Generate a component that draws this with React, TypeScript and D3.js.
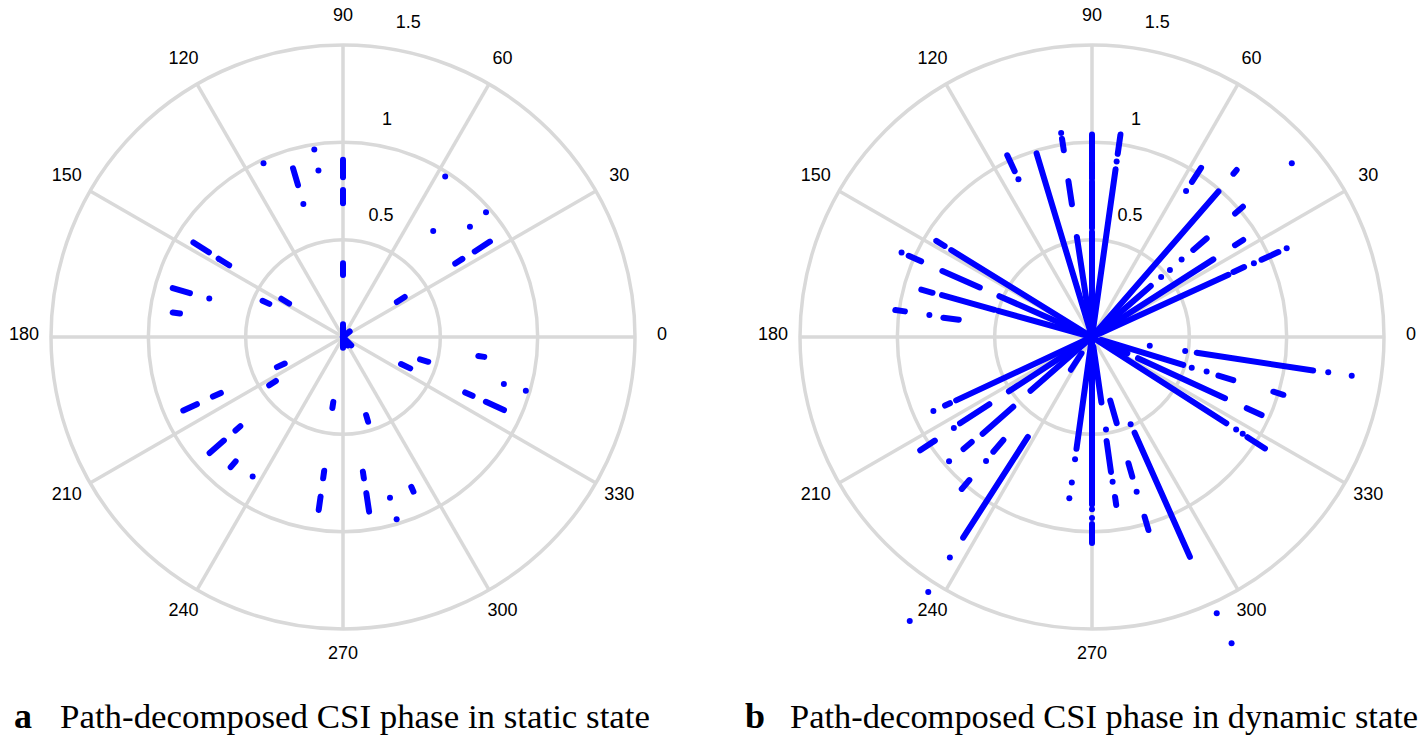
import React from 'react';
import * as d3 from 'd3';

// polar grid ticks
const angleTicks = [0, 30, 60, 90, 120, 150, 180, 210, 240, 270, 300, 330];
const radialTicks = [0.5, 1, 1.5];

// each mark: [angle in degrees, r start, r end] (r start == r end is a single dot)
const staticMarks: [number, number, number][] = [
  [90, 0, 0.065], [270, 0, 0.055], [315, 0, 0.06], [40, 0, 0.045], [300, 0, 0.05],
  [90, 0.82, 0.91], [90, 0.687, 0.755], [90, 0.318, 0.379],
  [98.7, 0.975, 0.975], [98.4, 0.864, 0.864],
  [106.5, 0.814, 0.904], [106.6, 0.713, 0.713], [114.6, 0.981, 0.981],
  [57.5, 0.977, 0.977], [41.1, 0.975, 0.975], [41.0, 0.864, 0.864], [49.6, 0.715, 0.715],
  [33.0, 0.807, 0.9], [33.2, 0.689, 0.733], [33.0, 0.33, 0.378],
  [147.7, 0.815, 0.909], [147.8, 0.691, 0.755], [155.8, 0.415, 0.453], [148.2, 0.326, 0.373],
  [164.0, 0.818, 0.91], [163.9, 0.715, 0.715], [171.8, 0.846, 0.884],
  [204.5, 0.329, 0.373], [213.2, 0.412, 0.453], [204.7, 0.826, 0.903], [204.6, 0.69, 0.735],
  [221.0, 0.811, 0.908], [221.0, 0.699, 0.732], [229.2, 0.844, 0.883], [237.1, 0.854, 0.854],
  [261.5, 0.337, 0.369], [286.5, 0.418, 0.454], [262.0, 0.694, 0.733], [262.0, 0.828, 0.897],
  [278.4, 0.699, 0.734], [278.5, 0.811, 0.907], [286.3, 0.86, 0.86], [294.5, 0.846, 0.873],
  [286.4, 0.976, 0.976],
  [335.0, 0.329, 0.381], [343.8, 0.412, 0.456], [352.0, 0.702, 0.733], [343.7, 0.861, 0.861],
  [343.6, 0.979, 0.979], [335.6, 0.689, 0.731], [335.6, 0.806, 0.908],
];

const dynamicMarks: [number, number, number][] = [
  // 90
  [90, 0, 0.54], [90, 0.56, 0.8], [90, 0.815, 0.9], [90, 0.91, 1.04],
  // 82
  [82, 0, 0.87], [82, 0.91, 0.91], [82, 0.95, 1.05],
  // 98.6
  [98.6, 0, 0.52], [98.6, 0.69, 0.81], [98.6, 0.97, 1.03], [98.6, 1.06, 1.06],
  // 106.8
  [106.8, 0, 0.985],
  // 115
  [115, 0.894, 0.894], [115, 0.94, 1.03],
  // 148
  [148.3, 0, 0.85], [148.3, 0.89, 0.94],
  // 156
  [156.2, 0, 0.52], [156.2, 0.63, 0.84], [156.1, 0.96, 1.03], [156.1, 1.07, 1.07],
  // 164
  [164.4, 0, 0.5], [164.4, 0.52, 0.8], [164.5, 0.85, 0.91],
  // 172
  [172.6, 0.69, 0.77], [172.3, 0.843, 0.843], [172.2, 0.97, 1.02],
  // 57
  [57.2, 0.892, 0.892], [57.2, 0.948, 1.034],
  // 49
  [49, 0, 0.99], [49.1, 1.11, 1.135],
  // 41
  [41, 0.05, 0.4], [40.9, 0.47, 0.47], [40.7, 0.528, 0.528], [40.9, 0.609, 0.609],
  [40.7, 0.686, 0.777], [40.8, 0.971, 1.024], [41, 1.36, 1.36],
  // 32.6
  [32.6, 0, 0.74], [32.7, 0.873, 0.923],
  // 24.5
  [24.5, 0, 0.77], [24.7, 0.8, 0.86], [24.5, 0.914, 0.914], [24.5, 0.957, 1.052], [24.5, 1.099, 1.099],
  // 205
  [205, 0, 0.77], [205, 0.805, 0.833], [205, 0.899, 0.899],
  // 213
  [213.2, 0, 0.51], [213.2, 0.63, 0.81], [213.4, 0.85, 0.85], [213.4, 0.967, 1.057],
  // 221
  [221.2, 0, 0.42], [221.5, 0.54, 0.75], [221.1, 0.82, 0.876], [221, 0.973, 0.973],
  // 229
  [229.3, 0.698, 0.777], [229.5, 0.838, 0.838], [229.4, 0.968, 1.028],
  // 237
  [237.2, 0.1, 0.2], [237.3, 0.61, 1.225], [237.2, 1.348, 1.348], [237.3, 1.557, 1.557], [237.3, 1.733, 1.733],
  // 262
  [262.1, 0, 0.58], [262.1, 0.634, 0.634], [262.1, 0.755, 0.755], [262, 0.837, 0.837],
  // 270
  [270, 0, 0.86], [270, 0.885, 0.885], [270, 0.93, 0.93], [270, 0.96, 1.058],
  // 278
  [278.2, 0.05, 0.34], [278.6, 0.48, 0.48], [278, 0.54, 0.7], [278.1, 0.751, 0.751], [278.2, 0.83, 0.872],
  // 286
  [286, 0.34, 0.46], [286.1, 0.675, 0.747], [286.1, 0.827, 0.827], [286.3, 0.962, 1.033],
  // 294
  [293.9, 0.49, 0.49], [294, 0.538, 1.236], [294.3, 1.557, 1.557], [294.5, 1.729, 1.729],
  // 327
  [327.3, 0, 0.82], [327.3, 0.88, 0.88], [327.3, 0.92, 0.92], [327.2, 0.95, 1.057],
  // 335
  [335.3, 0.05, 0.2], [335.3, 0.26, 0.752], [335.3, 0.875, 0.959],
  // 343
  [343, 0.05, 0.49], [342.9, 0.536, 0.536], [343.2, 0.615, 0.615], [343, 0.679, 0.759], [343.2, 0.973, 1.027],
  // 351.5
  [351.5, 0.3, 0.3], [351.5, 0.484, 0.484], [351.4, 0.544, 1.149], [351.5, 1.227, 1.227], [351.5, 1.349, 1.349],
];

const captionLetters = ['a', 'b'];
const captionTexts = [
  'Path-decomposed CSI phase in static state',
  'Path-decomposed CSI phase in dynamic state',
];

const W = 1424;
const H = 748;
const R = 292;
const GRID = '#d9d9d9';
const BLUE = '#0000ff';
const SANS = 'Liberation Sans, Arial, Helvetica, sans-serif';
const SERIF = 'Liberation Serif, Times New Roman, serif';

const rScale = d3.scaleLinear().domain([0, 1.5]).range([0, R]);
// d3 radial angle: radians clockwise from 12 o'clock
const aScale = d3.scaleLinear().domain([0, 360]).range([Math.PI / 2, Math.PI / 2 - 2 * Math.PI]);
const radial = d3.lineRadial<[number, number]>()
  .angle(d => aScale(d[0]))
  .radius(d => rScale(d[1]));

const polar = (deg: number, rpx: number): [number, number] => {
  const t = (deg * Math.PI) / 180;
  return [rpx * Math.cos(t), -rpx * Math.sin(t)];
};

const PolarPlot: React.FC<{ cx: number; cy: number; marks: [number, number, number][] }> = ({ cx, cy, marks }) => {
  return (
    <g transform={`translate(${cx},${cy})`}>
      {radialTicks.map(t => (
        <circle key={t} r={rScale(t)} fill="none" stroke={GRID} strokeWidth={3.5} />
      ))}
      {angleTicks.map(a => (
        <path key={a} d={radial([[a, 0], [a, 1.5]]) || ''} stroke={GRID} strokeWidth={3.5} fill="none" />
      ))}
      {marks.map((m, i) => (
        <path
          key={i}
          d={radial([[m[0], m[1]], [m[0], m[2]]]) || ''}
          stroke={BLUE}
          strokeWidth={6}
          strokeLinecap="round"
          fill="none"
        />
      ))}
      {angleTicks.map(a => {
        const [x, y] = polar(a, rScale(1.5) + 27);
        return (
          <text key={a} x={x} y={y - 3} textAnchor="middle" dominantBaseline="central"
            fontFamily={SANS} fontSize={18} fill="#000">{a}</text>
        );
      })}
      {radialTicks.map(t => {
        const [x, y] = polar(82, rScale(t));
        return (
          <text key={t} x={x + 12} y={y - 25.6} textAnchor="start" dominantBaseline="central"
            fontFamily={SANS} fontSize={18} fill="#000">{t}</text>
        );
      })}
    </g>
  );
};

export default function App() {
  const captionX = [[14, 60, 590], [745, 790, 628]];
  return (
    <svg width={W} height={H} style={{ position: 'absolute', left: 0, top: 0, background: '#fff' }}>
      <rect width={W} height={H} fill="#fff" />
      <PolarPlot cx={343} cy={337} marks={staticMarks} />
      <PolarPlot cx={1092} cy={337} marks={dynamicMarks} />
      {captionTexts.map((c, i) => (
        <g key={i}>
          <text x={captionX[i][0]} y={728} fontFamily={SERIF} fontWeight="bold" fontSize={36} fill="#000">
            {captionLetters[i]}
          </text>
          <text x={captionX[i][1]} y={728} fontFamily={SERIF} fontSize={34} fill="#000"
            textLength={captionX[i][2]} lengthAdjust="spacingAndGlyphs">
            {c}
          </text>
        </g>
      ))}
    </svg>
  );
}
